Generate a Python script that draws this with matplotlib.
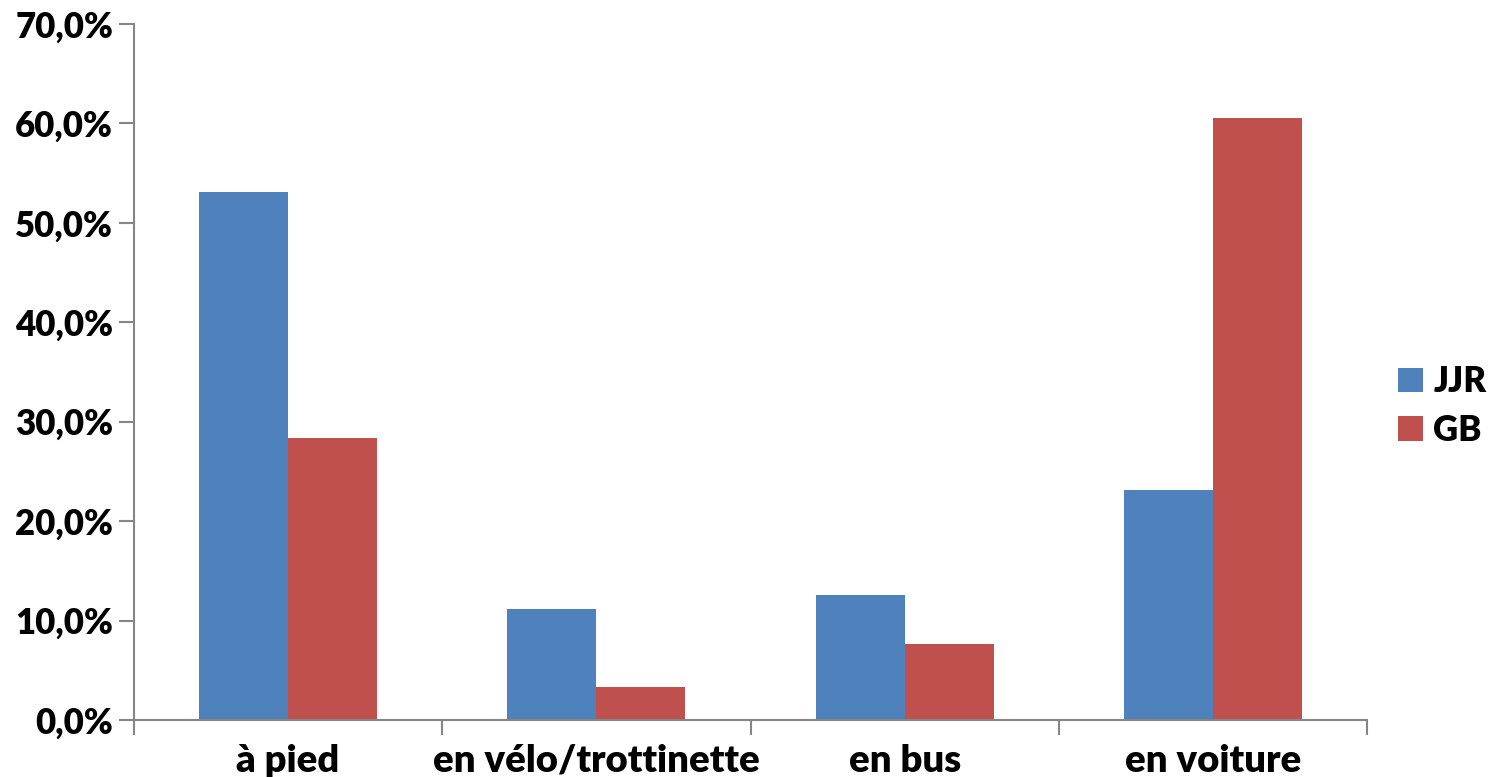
import matplotlib
matplotlib.use("Agg")
import matplotlib.pyplot as plt
import numpy as np
from matplotlib.ticker import FuncFormatter, MultipleLocator
from matplotlib.patches import Patch

categories = ["à pied", "en vélo/trottinette", "en bus", "en voiture"]
series_names = ["JJR", "GB"]
jjr = [53.1, 11.2, 12.6, 23.1]
gb = [28.4, 3.3, 7.6, 60.5]
colors = ["#4F81BD", "#C0504D"]

plt.rcParams['font.family'] = ['Lato', 'DejaVu Sans']
FW = 'heavy'
FS = 25

fig = plt.figure(figsize=(14.92, 7.77), dpi=100)
ax = fig.add_axes([134/1492, 57/777, (1367-134)/1492, (720-24)/777])

x = np.arange(len(categories))
w = 0.2885
ax.bar(x - w/2, jjr, width=w, color=colors[0], label=series_names[0])
ax.bar(x + w/2, gb, width=w, color=colors[1], label=series_names[1])

ax.set_xlim(-0.5, len(categories) - 0.5)
ax.set_ylim(0, 70)
ax.yaxis.set_major_locator(MultipleLocator(10))
ax.yaxis.set_major_formatter(FuncFormatter(lambda v, p: f"{v:.1f}%".replace(".", ",")))

ax.set_xticks(x)
ax.set_xticklabels(categories)
ax.set_xticks(np.arange(-0.5, len(categories)), minor=True)
ax.tick_params(axis='x', which='major', length=0, pad=17, labelsize=27.5)
ax.tick_params(axis='x', which='minor', length=11, width=1.5, color='#868686')
ax.tick_params(axis='y', length=11, width=1.5, color='#868686', pad=4, labelsize=FS)

for s in ['top', 'right']:
    ax.spines[s].set_visible(False)
for s in ['left', 'bottom']:
    ax.spines[s].set_color('#868686')
    ax.spines[s].set_linewidth(1.5)

for lbl in ax.get_xticklabels() + ax.get_yticklabels():
    lbl.set_fontweight(FW)

handles = [Patch(facecolor=c, label=n) for c, n in zip(colors, series_names)]
fig.legend(handles=handles, loc='center left', bbox_to_anchor=(1398/1492, 1 - 406/777),
           frameon=False, handlelength=0.72, handleheight=0.72,
           handletextpad=0.3, labelspacing=0.45, borderpad=0, borderaxespad=0,
           prop={'weight': FW, 'size': FS})

fig.savefig("out.png", dpi=100)
